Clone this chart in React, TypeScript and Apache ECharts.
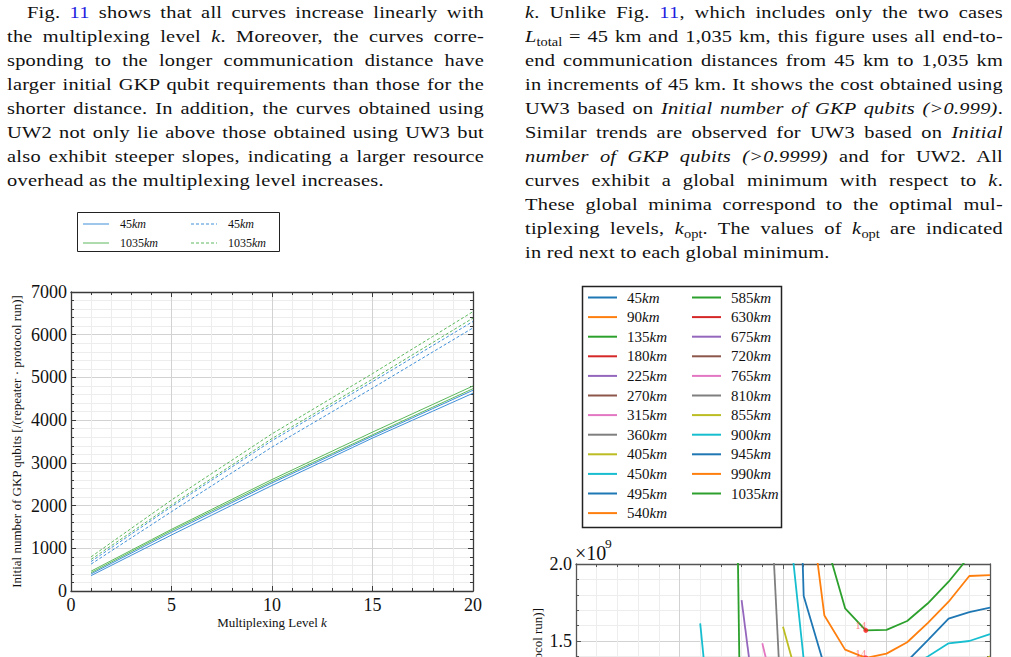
import React, { useEffect, useRef } from "react";
import * as echarts from "echarts";

const SERIF = "'Liberation Serif', 'Times New Roman', serif";

// Multiplexing levels k shared by both figures
const kLevels = [1, 2, 3, 4, 5, 6, 7, 8, 9, 10, 11, 12, 13, 14, 15, 16, 17, 18, 19, 20];

// Fig. 11 — initial number of GKP qubits per (repeater · protocol run)
// UW3 (solid lines)
const uw3_45km_p999 = [360, 598, 836, 1073, 1311, 1543, 1775, 2007, 2238, 2470, 2692, 2914, 3136, 3358, 3580, 3790, 4000, 4210, 4420, 4630];
const uw3_45km_p9999 = [400, 644, 887, 1131, 1374, 1605, 1836, 2068, 2299, 2530, 2749, 2968, 3188, 3407, 3627, 3842, 4056, 4271, 4485, 4700];
const uw3_1035km_p999 = [430, 676, 921, 1167, 1412, 1643, 1873, 2104, 2334, 2565, 2783, 3002, 3220, 3439, 3657, 3873, 4089, 4305, 4521, 4737];
const uw3_1035km_p9999 = [465, 710, 954, 1199, 1444, 1677, 1910, 2144, 2377, 2610, 2832, 3054, 3276, 3498, 3720, 3936, 4152, 4368, 4584, 4800];
// UW2 (dashed lines)
const uw2_45km_p999 = [630, 937, 1244, 1550, 1857, 2160, 2462, 2765, 3067, 3370, 3646, 3922, 4198, 4474, 4750, 5032, 5314, 5596, 5878, 6160];
const uw2_45km_p9999 = [690, 1011, 1333, 1654, 1975, 2284, 2593, 2902, 3211, 3520, 3796, 4072, 4348, 4624, 4900, 5182, 5464, 5746, 6028, 6310];
const uw2_1035km_p999 = [740, 1059, 1378, 1696, 2015, 2326, 2637, 2948, 3259, 3570, 3848, 4126, 4404, 4682, 4960, 5246, 5532, 5818, 6104, 6390];
const uw2_1035km_p9999 = [800, 1133, 1465, 1798, 2130, 2440, 2750, 3060, 3370, 3680, 3962, 4244, 4526, 4808, 5090, 5380, 5670, 5960, 6250, 6540];

// Fig. 12 — cost (×10^9) for UW3, end-to-end distances 45 km … 1,035 km
const distancesKm = [45, 90, 135, 180, 225, 270, 315, 360, 405, 450, 495, 540, 585, 630, 675, 720, 765, 810, 855, 900, 945, 990, 1035];
const N = null;
const cost450km = [N, N, N, N, N, 1.615, 0.26, N, N, N, N, N, N, N, N, N, N, N, N, N];
const cost585km = [N, N, N, N, N, N, 9.9, 0.33, N, N, N, N, N, N, N, N, N, N, N, N];
const cost675km = [N, N, N, N, N, N, N, 1.766, 0.72, N, N, N, N, N, N, N, N, N, N, N];
const cost765km = [N, N, N, N, N, N, N, N, 1.485, 0.93, N, N, N, N, N, N, N, N, N, N];
const cost810km = [N, N, N, N, N, N, N, N, 3.52, 0.84, N, N, N, N, N, N, N, N, N, N];
const cost855km = [N, N, N, N, N, N, N, N, N, 1.593, 1.108, N, N, N, N, N, N, N, 1.33, 1.4];
const cost900km = [N, N, N, N, N, N, N, N, N, 2.65, 1.38, N, N, N, N, 1.32, 1.4, 1.485, 1.5, 1.545];
const cost945km = [N, N, N, N, N, N, N, N, N, 6.18, 1.792, 1.337, N, N, N, 1.369, 1.506, 1.645, 1.688, 1.716];
const cost990km = [N, N, N, N, N, N, N, N, N, N, 2.715, 1.665, 1.444, 1.39, 1.418, 1.492, 1.618, 1.755, 1.922, 1.928];
const cost1035km = [N, N, N, N, N, N, N, N, N, N, 3.0, 2.18, 1.712, 1.569, 1.572, 1.63, 1.745, 1.885, 2.05, 2.2];

// Optimal multiplexing levels marked in red
const kOptDistanceKm = [990, 1035];
const kOpt = [14, 14];
const kOptCost = [1.39, 1.569];

const TAB10 = ["#1f77b4", "#ff7f0e", "#2ca02c", "#d62728", "#9467bd", "#8c564b", "#e377c2", "#7f7f7f", "#bcbd22", "#17becf"];
const BLUE = "#3f8fd8";
const GREEN = "#5cb85c";

const costCurves: Record<number, (number | null)[]> = {
  450: cost450km,
  585: cost585km,
  675: cost675km,
  765: cost765km,
  810: cost810km,
  855: cost855km,
  900: cost900km,
  945: cost945km,
  990: cost990km,
  1035: cost1035km,
};

const fig11Series = [
  { name: "UW3 45km (>0.999)", values: uw3_45km_p999, color: BLUE, dashed: false },
  { name: "UW3 45km (>0.9999)", values: uw3_45km_p9999, color: BLUE, dashed: false },
  { name: "UW3 1035km (>0.999)", values: uw3_1035km_p999, color: GREEN, dashed: false },
  { name: "UW3 1035km (>0.9999)", values: uw3_1035km_p9999, color: GREEN, dashed: false },
  { name: "UW2 45km (>0.999)", values: uw2_45km_p999, color: BLUE, dashed: true },
  { name: "UW2 45km (>0.9999)", values: uw2_45km_p9999, color: BLUE, dashed: true },
  { name: "UW2 1035km (>0.999)", values: uw2_1035km_p999, color: GREEN, dashed: true },
  { name: "UW2 1035km (>0.9999)", values: uw2_1035km_p9999, color: GREEN, dashed: true },
];

// legend of Fig. 11, column by column
const fig11Legend = [
  { label: "45", color: BLUE, dashed: false },
  { label: "1035", color: GREEN, dashed: false },
  { label: "45", color: BLUE, dashed: true },
  { label: "1035", color: GREEN, dashed: true },
];

const DASH = [3, 2];
const FIG12_ROWS = 12;

function kmRich(size: number) {
  return {
    n: { fontFamily: SERIF, fontSize: size, fill: "#111" },
    i: { fontFamily: SERIF, fontSize: size, fontStyle: "italic", fill: "#111" },
  };
}

function frameAxis(gridIndex: number, position: string, frameColor: string, extra: any) {
  return {
    type: "value",
    gridIndex,
    position,
    axisLine: { show: true, onZero: false, lineStyle: { color: frameColor, width: 1.3 } },
    axisTick: { show: true, inside: true, length: 5, lineStyle: { color: frameColor, width: 1 } },
    minorTick: { show: true, splitNumber: 5, length: 3, lineStyle: { color: frameColor, width: 1 } },
    splitLine: { show: false },
    minorSplitLine: { show: false },
    axisLabel: { show: false },
    ...extra,
  };
}

const labelStyle = { fontFamily: SERIF, fontSize: 18, color: "#111" };
const gridMajor = { show: true, lineStyle: { color: "#d2d2d2", width: 1 } };
const gridMinor = { show: true, lineStyle: { color: "#ededed", width: 1 } };

function buildOption() {
  const graphic: any[] = [];

  // Fig. 11 legend box
  graphic.push({
    type: "rect",
    shape: { x: 77.5, y: 212.5, width: 202, height: 39 },
    style: { fill: "#fff", stroke: "#222", lineWidth: 1 },
    z: 10,
  });
  fig11Legend.forEach((item, idx) => {
    const col = Math.floor(idx / 2);
    const row = idx % 2;
    const y = 224 + row * 19;
    const x0 = col === 0 ? 83 : 191;
    graphic.push({
      type: "line",
      shape: { x1: x0, y1: y, x2: x0 + 26, y2: y },
      style: { stroke: item.color, lineWidth: 1, lineDash: item.dashed ? DASH : null },
      z: 11,
    });
    graphic.push({
      type: "text",
      x: x0 + 37,
      y,
      style: { text: `{n|${item.label}}{i|km}`, rich: kmRich(12), verticalAlign: "middle" },
      z: 11,
    });
  });

  // Fig. 12 legend box
  graphic.push({
    type: "rect",
    shape: { x: 582.5, y: 286.5, width: 199, height: 241 },
    style: { fill: "#fff", stroke: "#222", lineWidth: 1.5 },
    z: 10,
  });
  distancesKm.forEach((d, idx) => {
    const col = idx < FIG12_ROWS ? 0 : 1;
    const row = idx < FIG12_ROWS ? idx : idx - FIG12_ROWS;
    const y = 297.5 + row * 19.6;
    const x0 = col === 0 ? 588 : 692;
    graphic.push({
      type: "line",
      shape: { x1: x0, y1: y, x2: x0 + 29, y2: y },
      style: { stroke: TAB10[idx % 10], lineWidth: 2 },
      z: 11,
    });
    graphic.push({
      type: "text",
      x: x0 + 39,
      y,
      style: { text: `{n|${d}}{i|km}`, rich: kmRich(15), verticalAlign: "middle" },
      z: 11,
    });
  });

  // Fig. 12 axis multiplier and (partly shown) y-axis title
  graphic.push({
    type: "text",
    x: 575,
    y: 563,
    style: { text: "×10", fontFamily: SERIF, fontSize: 20, fill: "#111", verticalAlign: "bottom" },
  });
  graphic.push({
    type: "text",
    x: 605,
    y: 550,
    style: { text: "9", fontFamily: SERIF, fontSize: 13.5, fill: "#111", verticalAlign: "bottom" },
  });
  graphic.push({
    type: "text",
    x: 537,
    y: 608,
    rotation: Math.PI / 2,
    style: {
      text: "Initial number of GKP qubits [/(repeater · protocol run)]",
      fontFamily: SERIF,
      fontSize: 13,
      fill: "#111",
      align: "right",
      verticalAlign: "middle",
    },
  });

  const series: any[] = [];
  fig11Series.forEach((s) => {
    series.push({
      type: "line",
      name: s.name,
      xAxisIndex: 0,
      yAxisIndex: 0,
      data: kLevels.map((k, i) => [k, s.values[i]]),
      symbol: "none",
      lineStyle: { color: s.color, width: 1, type: s.dashed ? DASH : "solid" },
      z: 3,
    });
  });
  distancesKm.forEach((d, idx) => {
    const values = costCurves[d] || [];
    series.push({
      type: "line",
      name: `${d}km`,
      xAxisIndex: 2,
      yAxisIndex: 2,
      data: kLevels.map((k, i) => [k, values[i] ?? null]),
      symbol: "none",
      connectNulls: false,
      clip: true,
      lineStyle: { color: TAB10[idx % 10], width: 1.8 },
      z: 3,
    });
  });
  series.push({
    type: "scatter",
    name: "k_opt",
    xAxisIndex: 2,
    yAxisIndex: 2,
    data: kOpt.map((k, i) => ({ name: `${kOptDistanceKm[i]}km`, value: [k, kOptCost[i]] })),
    symbolSize: 5,
    itemStyle: { color: "#ff1a1a" },
    label: {
      show: true,
      position: "inside",
      offset: [-5, -5],
      formatter: (p: any) => String(p.value[0]),
      fontFamily: SERIF,
      fontSize: 11,
      color: "rgba(255,60,60,0.8)",
    },
    z: 5,
  });

  return {
    animation: false,
    backgroundColor: "transparent",
    grid: [
      { left: 71, top: 292, width: 402, height: 299 },
      { left: 576, top: 564, width: 414, height: 154 },
    ],
    xAxis: [
      frameAxis(0, "bottom", "#3a3a3a", {
        min: 0,
        max: 20,
        interval: 5,
        splitLine: gridMajor,
        minorSplitLine: gridMinor,
        axisLabel: { show: true, margin: 5, ...labelStyle },
        name: "Multiplexing Level {i|k}",
        nameLocation: "middle",
        nameGap: 25,
        nameTextStyle: {
          fontFamily: SERIF,
          fontSize: 13,
          color: "#111",
          rich: { i: { fontFamily: SERIF, fontSize: 13, fontStyle: "italic", color: "#111" } },
        },
      }),
      frameAxis(0, "top", "#3a3a3a", { min: 0, max: 20, interval: 5 }),
      // bottom edge of Fig. 12 lies below the page fold, so its tick labels stay hidden
      frameAxis(1, "bottom", "#555", {
        min: 0,
        max: 20,
        interval: 5,
        splitLine: gridMajor,
        minorSplitLine: gridMinor,
      }),
      frameAxis(1, "top", "#555", { min: 0, max: 20, interval: 5 }),
    ],
    yAxis: [
      frameAxis(0, "left", "#3a3a3a", {
        min: 0,
        max: 7000,
        interval: 1000,
        splitLine: gridMajor,
        minorSplitLine: gridMinor,
        axisLabel: { show: true, margin: 4, formatter: (v: number) => String(v), ...labelStyle },
        name: "Initial number of GKP qubits [/(repeater · protocol run)]",
        nameLocation: "middle",
        nameGap: 48,
        nameTextStyle: { fontFamily: SERIF, fontSize: 13, color: "#111" },
      }),
      frameAxis(0, "right", "#3a3a3a", { min: 0, max: 7000, interval: 1000 }),
      frameAxis(1, "left", "#555", {
        min: 1.0,
        max: 2.0,
        interval: 0.5,
        splitLine: gridMajor,
        minorSplitLine: gridMinor,
        axisLabel: {
          show: true,
          margin: 4,
          showMinLabel: false,
          formatter: (v: number) => v.toFixed(1),
          ...labelStyle,
        },
      }),
      frameAxis(1, "right", "#555", { min: 1.0, max: 2.0, interval: 0.5 }),
    ],
    series,
    graphic,
  };
}

// ---------- text columns ----------
const STRETCH = 1.2;

const textFont: React.CSSProperties = {
  fontFamily: SERIF,
  fontSize: 17,
  lineHeight: "24px",
  color: "#111",
  letterSpacing: "0.2px",
  transform: `scaleX(${STRETCH})`,
  transformOrigin: "left top",
};

const LINK = "#1f1fe0";

function Line({ children, last, indent }: { children: React.ReactNode; last?: boolean; indent?: number }) {
  return (
    <div
      style={{
        textAlign: "justify",
        textAlignLast: last ? "left" : "justify",
        textIndent: indent || 0,
        height: 24,
        overflow: "hidden",
      }}
    >
      {children}
    </div>
  );
}

const Sub = ({ children }: { children: React.ReactNode }) => (
  <sub style={{ fontSize: 12, verticalAlign: "-4px", lineHeight: 0, letterSpacing: 0 }}>{children}</sub>
);
const I = ({ children }: { children: React.ReactNode }) => <i>{children}</i>;
const Ref = ({ children }: { children: React.ReactNode }) => <span style={{ color: LINK }}>{children}</span>;

export default function App() {
  const ref = useRef<HTMLDivElement>(null);

  useEffect(() => {
    if (!ref.current) return;
    const chart = echarts.init(ref.current, null, { renderer: "svg" });
    chart.setOption(buildOption() as any);
    return () => chart.dispose();
  }, []);

  return (
    <div
      style={{
        position: "fixed",
        left: 0,
        top: 0,
        width: 1011,
        height: 657,
        overflow: "hidden",
        background: "#fff",
      }}
    >
      <div ref={ref} style={{ position: "absolute", left: 0, top: 0, width: 1011, height: 900 }} />

      <div style={{ position: "absolute", left: 7, top: 1, width: 477 / STRETCH, ...textFont }}>
        <Line indent={20 / STRETCH}>
          Fig. <Ref>11</Ref> shows that all curves increase linearly with
        </Line>
        <Line>
          the multiplexing level <I>k</I>. Moreover, the curves corre-
        </Line>
        <Line>sponding to the longer communication distance have</Line>
        <Line>larger initial GKP qubit requirements than those for the</Line>
        <Line>shorter distance. In addition, the curves obtained using</Line>
        <Line>UW2 not only lie above those obtained using UW3 but</Line>
        <Line>also exhibit steeper slopes, indicating a larger resource</Line>
        <Line last>overhead as the multiplexing level increases.</Line>
      </div>

      <div style={{ position: "absolute", left: 525, top: 1, width: 478 / STRETCH, ...textFont }}>
        <Line>
          <I>k</I>. Unlike Fig. <Ref>11</Ref>, which includes only the two cases
        </Line>
        <Line>
          <I>L</I>
          <Sub>total</Sub> = 45 km and 1,035 km, this figure uses all end-to-
        </Line>
        <Line>end communication distances from 45 km to 1,035 km</Line>
        <Line>in increments of 45 km. It shows the cost obtained using</Line>
        <Line>
          UW3 based on <I>Initial number of GKP qubits (&gt;0.999)</I>.
        </Line>
        <Line>
          Similar trends are observed for UW3 based on <I>Initial</I>
        </Line>
        <Line>
          <I>number of GKP qubits (&gt;0.9999)</I> and for UW2. All
        </Line>
        <Line>
          curves exhibit a global minimum with respect to <I>k</I>.
        </Line>
        <Line>These global minima correspond to the optimal mul-</Line>
        <Line>
          tiplexing levels, <I>k</I>
          <Sub>opt</Sub>. The values of <I>k</I>
          <Sub>opt</Sub> are indicated
        </Line>
        <Line last>in red next to each global minimum.</Line>
      </div>
    </div>
  );
}
